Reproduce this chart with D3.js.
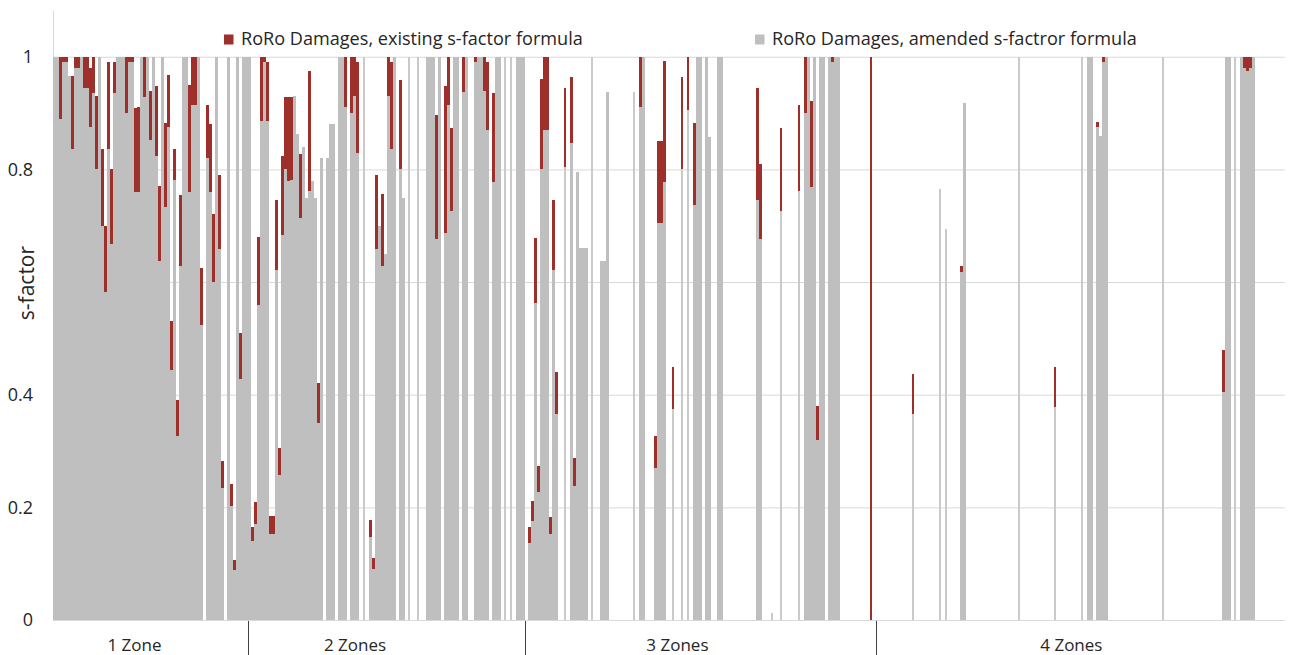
<!DOCTYPE html>
<html><head><meta charset="utf-8">
<script src="https://cdn.jsdelivr.net/npm/d3@7"></script>
<style>
html,body{margin:0;padding:0;background:#fff;}
svg{display:block;font-family:"Open Sans",sans-serif;}
</style></head><body>
<svg id="chart" width="1302" height="655"></svg>
<script>
// ---------- data ----------
const zoneNames = ["1 Zone", "2 Zones", "3 Zones", "4 Zones"];
const zoneLabelCase = [27.1, 100.5, 207.8, 338.9];   // case index where each zone label sits
const seriesNames = ["RoRo Damages, existing s-factor formula", "RoRo Damages, amended s-factror formula"];
const yTicks = [0, 0.2, 0.4, 0.6, 0.8, 1];
const yTickLabels = ["0", "0.2", "0.4", "", "0.8", "1"];   // 0.6 label is hidden behind the axis title

// s-factor per damage case, amended formula (grey) and existing formula (red)
const amended1 = [1,1,0.89,0.99,0.99,0.965,0.837,0.98,0.98,1,
  0.945,0.945,0.876,0.935,0.80,1,0.70,0.583,0.837,0.668,
  0.935,1,1,1,0.90,0.99,0.99,0.759,0.76,1,
  0.928,1,0.853,1,0.824,0.638,1,0.733,0.876,0.443,
  0.782,0.326,0.629,1,1,0.76,0.915,0.915,1,0.524,
  0,0.82,0.76,0.60,1,0.658,0.235,0,1,0.202,
  0.088,1,0.427,1,1];
const existing1 = [1,1,1,1,1,0.965,0.965,1,1,1,
  1,1,0.98,1,0.93,1,0.837,0.70,0.99,0.80,
  0.99,1,1,1,1,1,1,0.909,0.91,1,
  1,1,0.94,1,0.948,0.77,1,0.883,0.967,0.531,
  0.837,0.391,0.755,1,1,0.95,1,1,1,0.625,
  0,0.915,0.88,0.72,1,0.79,0.283,0,1,0.241,
  0.107,1,0.51,1,1];

const amended2 = [1,0.14,0.17,0.56,0.886,0.99,0.886,0.153,0.153,0.622,
  0.257,0.684,0.80,0.78,0.782,0.93,0.863,0.713,0.84,0.75,
  0.762,0.78,0.75,0.35,0.82,0,0.82,0.88,0.88,0,
  1,1,0.91,0,0.9,0.93,0.83,0,1,0,
  0.148,0.09,0.658,0.7,0.629,0.65,0.93,0.837,1,0,
  0.80,0.75,0,1,0,0,1,0,0,1,
  1,1,0.677,1,0,0.687,0.915,0.726,1,1,
  0,0.938,1,0,0,0.99,1,1,0.94,0.87,
  0,0.778,1,1,0,1,0,1,0,1,
  1,1];
const existing2 = [1,0.165,0.21,0.68,1,1,0.99,0.185,0.185,0.746,
  0.306,0.824,0.928,0.928,0.928,0.93,0.863,0.827,0.84,0.75,
  0.974,0.78,0.75,0.42,0.82,0,0.82,0.88,0.88,0,
  1,1,1,0,1,1,0.99,0,1,0,
  0.178,0.11,0.79,0.7,0.756,0.65,1,0.99,1,0,
  0.958,0.75,0,1,0,0,1,0,0,1,
  1,1,0.896,1,0,0.948,1,0.873,1,1,
  0,1,1,0,0,1,1,1,1,0.99,
  0,0.935,1,1,0,1,0,1,0,1,
  1,1];

const amended3 = [0,0.137,0.176,0.563,0.228,0.80,0.87,0.87,0.153,0.622,
  0.365,0,0,0.805,0,0.847,0.238,0.795,0.66,0.66,
  0.66,0,1,0,0,0.638,0.638,0.938,0,0,
  0,0,0,0,0,0,0.938,0,0.91,1,
  0,0,0,0.27,0.704,0.704,0.778,0,0,0.375,
  0,0,0.80,0,0.906,0,0.736,1,1,0,
  1,0.857,0,0,1,1,0,0,0,0,
  0,0,0,0,0,0,0,0.746,0.677,0,
  0,0,0.013,0,0,0.726,0,0,0,0,
  0,0.762,0,0.9,1,0.769,1,0.32,1,1,
  0,1,0.99,1,1,0,0,0,0,0,
  0,0,0,0,0,0,0];
const existing3 = [0,0.166,0.212,0.678,0.274,0.96,1,1,0.182,0.746,
  0.44,0,0,0.945,0,0.964,0.287,0.795,0.66,0.66,
  0.66,0,1,0,0,0.638,0.638,0.938,0,0,
  0,0,0,0,0,0,0.938,0,1,1,
  0,0,0,0.326,0.85,0.85,0.993,0,0,0.45,
  0,0,0.964,0,1,0,0.883,1,1,0,
  1,0.857,0,0,1,1,0,0,0,0,
  0,0,0,0,0,0,0,0.945,0.81,0,
  0,0,0.013,0,0,0.873,0,0,0,0,
  0,0.915,0,1,1,0.922,1,0.38,1,1,
  0,1,1,1,1,0,0,0,0,0,
  0,0,0,0,0,1,0];

const amended4 = [0,0,0,0,0,0,0,0,0,0,
  0,0,0.365,0,0,0,0,0,0,0,
  0,0.765,0,0.694,0,0,0,0,0.618,0.918,
  0,0,0,0,0,0,0,0,0,0,
  0,0,0,0,0,0,0,1,0,0,
  0,0,0,0,0,0,0,0,0,0.378,
  0,0,0,0,0,0,0,0,1,0,
  1,1,0,0.875,0.86,0.99,1,0,0,0,
  0,0,0,0,0,0,0,0,0,0,
  0,0,0,0,0,1,0,0,0,0,
  0,0,0,0,0,0,0,0,0,0,
  0,0,0,0,0,0.404,1,1,0,1,
  0,1,0.98,0.975,0.98,1,0,0,0,0,
  0,0,0,0,0,0];
const existing4 = [0,0,0,0,0,0,0,0,0,0,
  0,0,0.436,0,0,0,0,0,0,0,
  0,0.765,0,0.694,0,0,0,0,0.628,0.918,
  0,0,0,0,0,0,0,0,0,0,
  0,0,0,0,0,0,0,1,0,0,
  0,0,0,0,0,0,0,0,0,0.45,
  0,0,0,0,0,0,0,0,1,0,
  1,1,0,0.885,0.86,1,1,0,0,0,
  0,0,0,0,0,0,0,0,0,0,
  0,0,0,0,0,1,0,0,0,0,
  0,0,0,0,0,0,0,0,0,0,
  0,0,0,0,0,0.48,1,1,0,1,
  0,1,1,1,1,1,0,0,0,0,
  0,0,0,0,0,0];

// ---------- build table ----------
const zonesAmended = [amended1, amended2, amended3, amended4];
const zonesExisting = [existing1, existing2, existing3, existing4];
const cases = [];
zonesAmended.forEach((arr, z) => arr.forEach((a, k) => {
  cases.push({id: cases.length, zone: z, amended: a, existing: zonesExisting[z][k]});
}));
const N = cases.length;
const filled = d => d && d.existing > 0;
cases.forEach((d, i) => { d.isolated = !filled(cases[i - 1]) && !filled(cases[i + 1]); });
const zoneStart = [];
{ let s = 0; zonesAmended.forEach(a => { zoneStart.push(s); s += a.length; }); zoneStart.push(s); }

// ---------- layout ----------
const mLeft = 53, mRight = 1285, mTop = 10, mBottom = 620;
const RED = "#9e302c", GREY = "#bfbfbf", GREY_THIN = "#cacaca", GRID = "#d9d9d9", TXT = "#262626";

const svg = d3.select("#chart");
const x = d3.scaleBand().domain(cases.map(d => d.id)).range([mLeft, mRight]).padding(0);
const xc = d3.scaleLinear().domain([0, N]).range([mLeft, mRight]);
const y = d3.scaleLinear().domain([0, 1.083]).range([mBottom, mTop]);
const bx0 = d => Math.round(x(d.id));
const bw = d => d.isolated ? 2 : Math.max(1, Math.round(x(d.id) + x.bandwidth()) - Math.round(x(d.id)));

// grid + y axis
const yAxis = d3.axisLeft(y).tickValues(yTicks)
  .tickFormat((d, i) => yTickLabels[i])
  .tickSizeInner(-(mRight - mLeft)).tickSizeOuter(0).tickPadding(20);
const gy = svg.append("g").attr("transform", `translate(${mLeft},0)`).call(yAxis);
gy.select(".domain").attr("stroke", GRID);
gy.selectAll(".tick line").attr("stroke", GRID);
gy.selectAll(".tick text").attr("fill", TXT).attr("font-size", 18)
  .attr("font-family", '"Open Sans", sans-serif');

// bars: amended (grey) from 0, existing (red) shows where it exceeds amended
const bars = svg.append("g").attr("shape-rendering", "crispEdges");
bars.selectAll("rect.am").data(cases.filter(d => d.amended > 0)).join("rect")
  .attr("class", "am")
  .attr("x", bx0).attr("width", bw)
  .attr("y", d => y(d.amended)).attr("height", d => y(0) - y(d.amended))
  .attr("fill", d => d.isolated ? GREY_THIN : GREY);
bars.selectAll("rect.ex").data(cases.filter(d => d.existing > d.amended)).join("rect")
  .attr("class", "ex")
  .attr("x", bx0).attr("width", bw)
  .attr("y", d => y(d.existing)).attr("height", d => y(d.amended) - y(d.existing))
  .attr("fill", RED);

// zone dividers & labels
const gx = svg.append("g");
gx.selectAll("line.div").data(zoneStart.slice(1, -1)).join("line")
  .attr("x1", d => Math.round(xc(d)) + 0.5).attr("x2", d => Math.round(xc(d)) + 0.5)
  .attr("y1", mBottom + 1).attr("y2", 655)
  .attr("stroke", "#404040").attr("stroke-width", 1);
gx.selectAll("text.zone").data(zoneNames).join("text")
  .attr("x", (d, i) => xc(zoneLabelCase[i])).attr("y", 651)
  .attr("text-anchor", "middle").attr("font-size", 17).attr("fill", TXT)
  .text(d => d);

// y title
svg.append("text")
  .attr("transform", `translate(34,${(y(0.6) + 1)}) rotate(-90)`)
  .attr("text-anchor", "middle").attr("font-size", 21).attr("fill", TXT)
  .text("s-factor");

// legend
function fit(sel, target) {
  const n = sel.node(); const fs = +sel.attr("font-size");
  const w = n.getComputedTextLength();
  if (w > 0) sel.attr("font-size", fs * target / w);
}
const legendItems = [
  {name: seriesNames[0], color: RED, bx: 224, tx: 241, w: 342},
  {name: seriesNames[1], color: GREY, bx: 755, tx: 772, w: 365}
];
legendItems.forEach(it => {
  svg.append("rect").attr("x", it.bx).attr("y", 34.5).attr("width", 9.5).attr("height", 10).attr("fill", it.color);
  const t = svg.append("text").attr("x", it.tx).attr("y", 45).attr("font-size", 17)
    .attr("fill", TXT).text(it.name);
  fit(t, it.w);
});
</script>
</body></html>
